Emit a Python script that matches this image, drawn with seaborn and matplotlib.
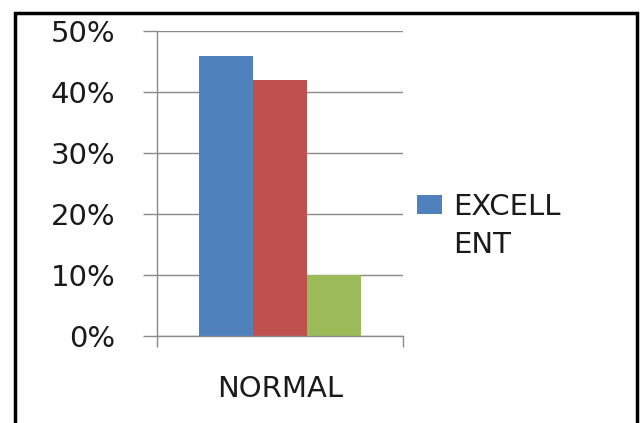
import matplotlib
matplotlib.use("Agg")
import matplotlib.pyplot as plt
from matplotlib.patches import Rectangle, Patch
from matplotlib.ticker import PercentFormatter, FixedLocator
import pandas as pd
import seaborn as sns

# Data
groups = ["NORMAL"]
ratings = ["EXCELLENT", "GOOD", "POOR"]
shares = [46, 42, 10]          # percent
legend_lines = ["EXCELL", "ENT"]
colors = ["#4F81BD", "#C0504D", "#9BBB59"]
y_ticks = [0, 10, 20, 30, 40, 50]

df = pd.DataFrame({
    "group": groups * len(ratings),
    "rating": ratings,
    "share": shares,
})

sns.set_theme(style="white")
plt.rcParams["font.family"] = ["DejaVu Sans"]

fig = plt.figure(figsize=(6.4, 4.23), dpi=100)
ax = fig.add_axes([157 / 640, 1 - 336 / 423, 246 / 640, (336 - 31.5) / 423])

sns.barplot(data=df, x="group", y="share", hue="rating", hue_order=ratings,
            palette=colors, width=0.66, gap=0, ax=ax, legend=False,
            saturation=1, edgecolor="none")

grid_c = "#8a8a8a"
ax.set_ylim(0, 50)
ax.set_xlim(-0.5, 0.5)
ax.yaxis.set_major_locator(FixedLocator(y_ticks))
ax.yaxis.set_major_formatter(PercentFormatter(decimals=0))
ax.grid(axis="y", color=grid_c, linewidth=1.0)
ax.set_axisbelow(True)
for s in ["top", "right"]:
    ax.spines[s].set_visible(False)
for s in ["left", "bottom"]:
    ax.spines[s].set_color(grid_c)
    ax.spines[s].set_linewidth(1.0)

ax.tick_params(axis="y", which="major", length=10, width=1.0, color=grid_c,
               direction="out", pad=20, labelsize=21, labelcolor="#1a1a1a", left=True)
ax.tick_params(axis="x", which="major", length=0, pad=28, labelsize=21,
               labelcolor="#1a1a1a")
ax.set_xticks([-0.5, 0.5], minor=True)
ax.tick_params(axis="x", which="minor", length=8, width=1.0, color=grid_c,
               direction="out", bottom=True)
ax.set_xlabel("")
ax.set_ylabel("")

# Legend shows the first series only, its label wrapped over two rows
handles = [Patch(facecolor=colors[0], edgecolor="none"),
           Patch(facecolor="none", edgecolor="none")]
fig.legend(handles, legend_lines, loc="upper left",
           bbox_to_anchor=(402 / 640, 1 - 178 / 423), frameon=False,
           fontsize=21, handlelength=0.86, handleheight=0.6, handletextpad=0.38,
           labelcolor="#1a1a1a", borderpad=0, labelspacing=0.37)

# Outer black frame
fig.patches.append(Rectangle((15 / 640, -0.05), (637 - 15) / 640, 1.05 - 13 / 423,
                             transform=fig.transFigure, fill=False,
                             edgecolor="black", linewidth=2.5, zorder=10))

fig.savefig("out.png", dpi=100, facecolor="white")
